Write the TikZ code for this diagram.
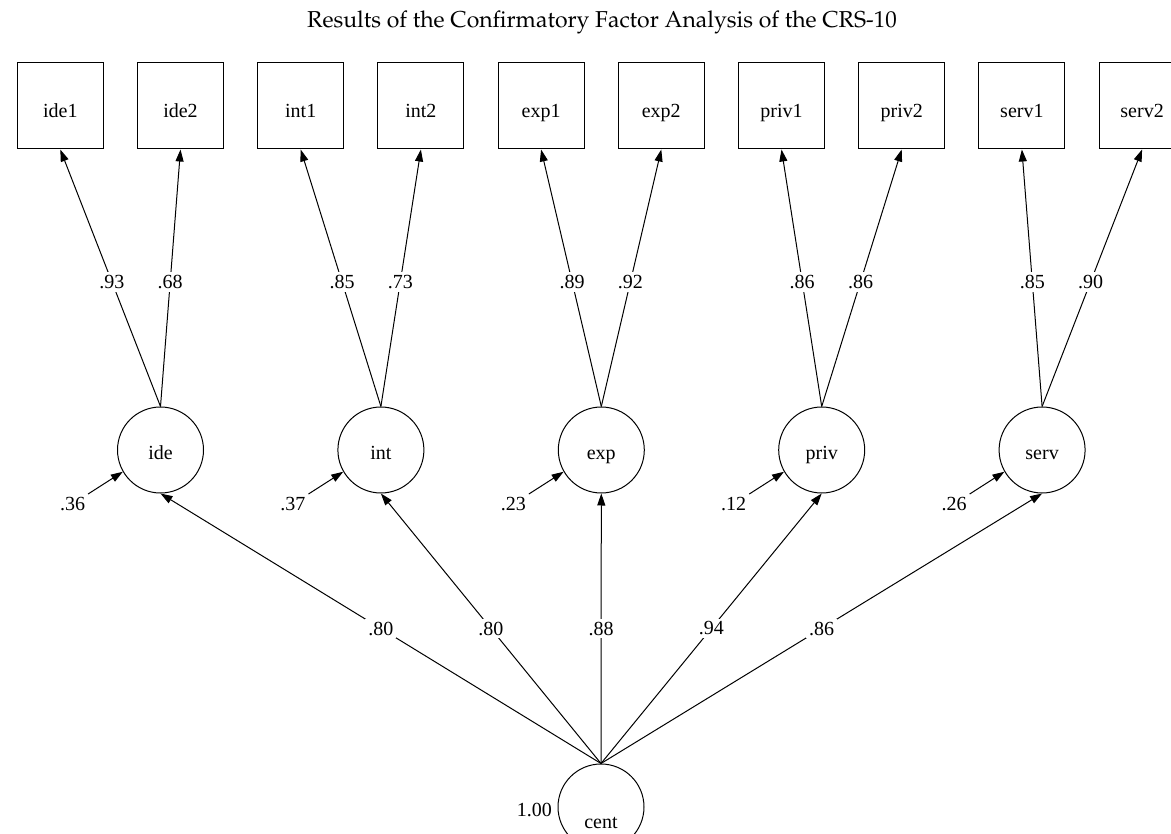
\documentclass[tikz,border=0pt]{standalone}
\usepackage[T1]{fontenc}
\usepackage{fontspec}
\setmainfont{Liberation Serif}
\usetikzlibrary{arrows.meta,calc}
\begin{document}
\begin{tikzpicture}[x=1pt,y=-1pt,
  every node/.style={font=\fontsize{20}{24}\selectfont},
  observed/.style={draw,line width=1pt,minimum width=86pt,minimum height=86pt,inner sep=0pt,text height=24pt,text depth=0pt},
  latent/.style={draw,circle,line width=1pt,minimum size=86pt,inner sep=0pt,text height=20pt,text depth=0pt},
  lab/.style={fill=white,inner sep=3pt},
  arr/.style={line width=1pt,-{Triangle[length=12pt,width=8pt]}}]
\useasboundingbox (0,0) rectangle (1171,834);

% title
\node[anchor=base] (title) at (602,28)
  {\fontencoding{T1}\fontfamily{ppl}\fontsize{23}{27}\selectfont Results of the Confirmatory Factor Analysis of the CRS-10};

% observed indicators
\foreach \n [count=\i from 0] in {ide1,ide2,int1,int2,exp1,exp2,priv1,priv2,serv1,serv2}
  \node[observed] (\n) at ({60.3+120.2*\i},106) {\n};

% first-order factors
\foreach \n [count=\i from 0] in {ide,int,exp,priv,serv}
  \node[latent] (\n) at ({160.5+220.4*\i},450) {\n};

% second-order factor
\node[latent,label={[anchor=base,yshift=-16pt,inner sep=0pt]center:cent}] (cent) at (601,807) {};
\node[anchor=east,inner sep=0pt] (vcent) at (552,810) {1.00};

% loadings
\begin{scope}[every node/.append style={pos=0.485}]
\draw[arr] (ide.north) -- node[lab]{.93} (ide1.south);
\draw[arr] (ide.north) -- node[lab]{.68} (ide2.south);
\draw[arr] (int.north) -- node[lab]{.85} (int1.south);
\draw[arr] (int.north) -- node[lab]{.73} (int2.south);
\draw[arr] (exp.north) -- node[lab]{.89} (exp1.south);
\draw[arr] (exp.north) -- node[lab]{.92} (exp2.south);
\draw[arr] (priv.north) -- node[lab]{.86} (priv1.south);
\draw[arr] (priv.north) -- node[lab]{.86} (priv2.south);
\draw[arr] (serv.north) -- node[lab]{.85} (serv1.south);
\draw[arr] (serv.north) -- node[lab]{.90} (serv2.south);
\end{scope}

% structural paths
\draw[arr] (cent.north) -- node[lab]{.80} (ide.south);
\draw[arr] (cent.north) -- node[lab]{.80} (int.south);
\draw[arr] (cent.north) -- node[lab]{.88} (exp.south);
\draw[arr] (cent.north) -- node[lab]{.94} (priv.south);
\draw[arr] (cent.north) -- node[lab]{.86} (serv.south);

% disturbances
\foreach \n/\v in {ide/.36,int/.37,exp/.23,priv/.12,serv/.26} {
  \node[lab] (e\n) at ($(\n.center)+(-88,54)$) {\v};
  \draw[arr] (e\n) -- (\n.210);
}
\end{tikzpicture}
\end{document}
